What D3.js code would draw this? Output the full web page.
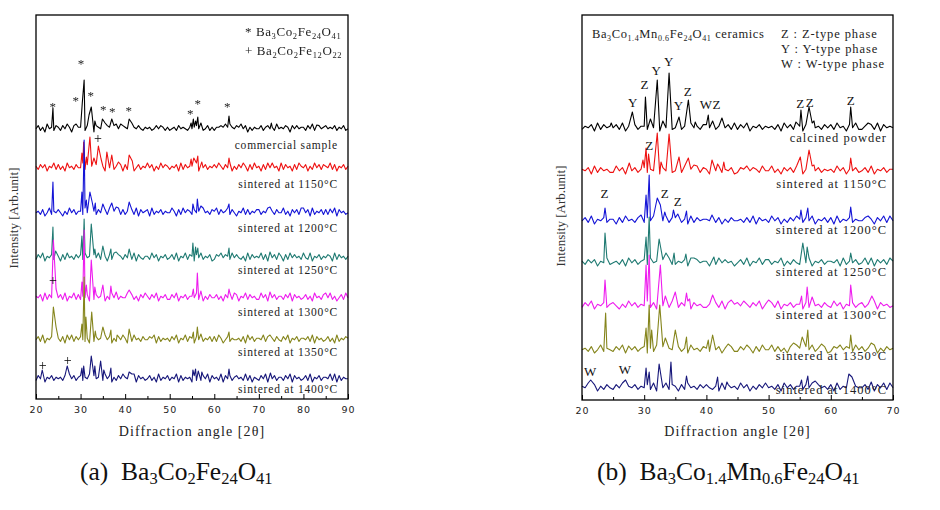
<!DOCTYPE html>
<html><head><meta charset="utf-8">
<script src="https://cdn.jsdelivr.net/npm/d3@7"></script>
<style>body{margin:0;background:#fff}svg{display:block}</style>
</head><body>
<svg id="c" width="940" height="510"><defs><filter id="gs" x="0" y="0" width="1" height="1"><feOffset dx="0" dy="0"/></filter></defs></svg>
<script>
// ---------- DATA ----------
const traceColors = ["#000000","#ee1111","#1414d6","#1f7a72","#ee1cee","#85851c","#17177a"];
const leftLabels = ["commercial sample","sintered at 1150°C","sintered at 1200°C","sintered at 1250°C","sintered at 1300°C","sintered at 1350°C","sintered at 1400°C"];
const rightLabels = ["calcined powder","sintered at 1150°C","sintered at 1200°C","sintered at 1250°C","sintered at 1300°C","sintered at 1350°C","sintered at 1400°C"];
// stacking offsets (arb. units) of each pattern
const leftOffsets = [271,232,187,142,102,60,21];
const rightOffsets = [273,230,180,138,95,51,13];
const leftLabelLevels = [250,211,167,125,83,43,6];
const rightLabelLevels = [258,212,166,124,81,40,6];
const xTicksLeft = [20,30,40,50,60,70,80,90];
const xTicksRight = [20,30,40,50,60,70];
const minorLeft = [25,35,45,55,65,75,85];
const minorRight = [25,35,45,55,65];
// background noise read at 0.5° steps (digit - 3.5, in 1.6 units)
const leftNoise = [
"3524163425 4253641534 4625341543 2354654365 4352435324 3423535424 2342534324 3453423524 2445464643 5463514243 3524534263 4354153534 4253623534 5343524352 3",
"4253514362 5241634253 3625143526 4153624351 5264135243 6351426354 2435162534 4261535243 5364253614 2536415263 4152635341 6253415264 3514263525 4362514352 4",
"3425136243 5314263524 4263514253 3526143625 2435261534 5162435243 3641526354 2534163425 4625346253 1436252435 5243614253 3624153526 4351624352 5243615342 3",
"2536143524 4152634253 5263415362 3415263542 5342615324 4263514352 3526143625 4153624351 2546354263 5324162534 3625143526 4152635342 5326143524 3541625342 4",
"4351625342 3526143625 2435162534 5142635243 3625241536 4253614352 2536143524 4362514253 3524153626 5143625342 2635143524 4253615342 3524163425 5362413526 3",
"3526143524 4251636253 5324162534 2635142536 4152634253 3546152434 2536143625 4153624352 5264135243 3425163524 4362514253 2536143524 4352615342 3524162435 4",
"2536143524 3425163524 5243615342 2635142536 4352615342 3524162435 2436152434 1524253615 3426153524 5342625143 2536143524 4253615342 3526143524 4352615243 3"];
const rightNoise = [
"2435162534 3526143524 4253615342 3524163425 5362413526 2536143524 3425163524 4152634253 5263415362 2435261534 3",
"4351625342 2635143524 5243615342 3526143625 4153624351 2546354263 3624153526 5142635243 4263514352 3526143524 4",
"3526143524 4152634253 2536143625 5324162534 4362514253 3425261534 2635142536 4253614352 5162435243 3524153626 3",
"4253514362 3425163524 5263415362 2435162534 4152635341 3526143625 5243614253 2536143524 4351624352 3624153526 4",
"2536143524 5314263524 3625143526 4253615342 2435261534 5364253614 3526143524 4152634253 2635143524 5243615342 3",
"3425136243 2536143524 5142635243 3524163425 4263514352 2536415263 3625241536 4153624351 2546354263 5243614253 4",
"4362514253 2536143524 3526143625 4152634253 5324162534 2635142536 3425163524 4253615342 5162435243 3524153626 3"];
// peaks [2θ, height above pattern baseline]
const leftPeaks = [
 [[23.8,20],[29.0,4],[30.4,26],[30.8,48],[31.9,13],[32.4,21],[33.2,7],[34.9,9],[35.5,5],[37.0,9],[38.0,4],[40.9,9],[41.5,5],[54.8,5],[55.3,9],[55.8,7],[56.3,11],[57.0,5],[63.3,12],[72.8,5],[83.0,3]],
 [[24.0,4],[30.3,14],[30.7,25],[31.3,10],[32.1,30],[33.0,9],[34.0,21],[34.6,8],[35.9,15],[37.0,12],[38.5,5],[40.9,12],[41.6,6],[54.8,8],[55.4,9],[56.3,11],[57.2,5],[63.3,9],[73.0,4]],
 [[23.8,30],[30.3,20],[30.8,72],[31.3,12],[32.1,20],[32.6,10],[33.3,9],[35.0,8],[37.0,9],[38.0,5],[40.9,10],[55.2,8],[56.2,13],[57.0,6],[63.3,8],[72.5,5],[80.0,4],[86.0,3]],
 [[23.8,30],[24.4,6],[30.3,21],[30.8,38],[32.4,33],[33.2,8],[35.0,11],[36.8,8],[38.0,5],[40.9,8],[55.2,14],[55.8,10],[56.3,9],[63.3,9],[72.5,5],[80.0,4]],
 [[23.9,57],[24.5,8],[30.3,15],[30.8,67],[31.3,12],[32.4,37],[33.2,10],[35.0,12],[36.8,11],[38.0,5],[40.9,7],[55.3,8],[56.2,24],[57.0,6],[63.3,8],[72.5,5],[85.0,4]],
 [[23.9,32],[24.5,12],[30.3,15],[30.8,62],[31.2,22],[32.5,27],[33.3,8],[35.0,12],[36.8,9],[38.2,4],[40.9,10],[55.3,7],[56.2,12],[57.0,5],[63.3,7],[72.5,4]],
 [[21.4,8],[27.0,12],[30.3,10],[30.7,12],[32.4,22],[33.2,12],[34.5,17],[35.2,8],[36.8,10],[40.9,6],[41.5,4],[55.2,8],[55.8,9],[56.4,7],[57.2,6],[63.3,9],[72.6,5],[86.0,4]]];
const rightPeaks = [
 [[24.7,4],[28.1,15],[30.2,30],[31.0,8],[32.1,47],[33.0,6],[34.0,54],[35.6,10],[37.1,27],[38.2,5],[40.3,12],[41.0,6],[42.5,9],[54.4,5],[55.2,17],[56.5,20],[57.3,6],[63.2,20],[66.0,4]],
 [[27.6,7],[29.8,10],[30.3,22],[30.7,16],[32.1,37],[32.7,8],[34.0,36],[35.6,13],[37.1,12],[38.0,5],[40.9,10],[41.8,6],[42.8,8],[55.1,13],[56.5,20],[57.3,5],[63.2,12],[66.5,4]],
 [[23.7,12],[29.5,5],[30.3,25],[30.8,45],[32.1,22],[32.6,15],[33.3,8],[34.7,10],[35.4,6],[36.8,9],[40.9,5],[55.2,10],[56.3,12],[63.2,13],[66.0,4]],
 [[23.7,29],[30.3,25],[30.8,45],[32.4,23],[33.5,9],[34.8,9],[36.7,8],[38.0,4],[41.2,5],[55.5,19],[56.2,15],[63.2,9],[66.5,4]],
 [[23.7,25],[30.3,40],[30.8,50],[32.6,40],[33.4,9],[35.0,13],[36.8,12],[37.3,6],[41.0,10],[44.0,5],[50.0,5],[55.3,9],[56.2,18],[57.0,8],[63.2,20],[66.6,9]],
 [[23.8,36],[27.5,3],[30.3,21],[30.8,44],[31.2,19],[32.5,44],[33.4,11],[35.0,19],[36.8,12],[40.3,9],[41.0,14],[43.5,5],[54.0,6],[55.4,12],[56.3,19],[58.5,5],[63.2,14],[66.5,6]],
 [[21.4,7],[27.0,7],[30.3,19],[30.8,15],[32.4,23],[34.3,25],[36.8,11],[41.8,10],[43.3,5],[55.3,7],[56.3,11],[57.5,6],[62.9,13],[63.4,10],[66.5,5]]];
// peak markers
const leftStars = [[23.75,295],[28.9,301],[30.1,338],[32.3,306],[35.1,292],[37.1,290],[40.8,291],[54.6,288],[56.3,298],[62.9,295]];
const leftPluses = [[33.9,261],[23.8,119],[21.5,34],[27.1,39]];
const rightMarks = [["Y",28.15,298],["Z",30.05,316],["Y",31.93,330],["Y",33.95,339],["Y",35.5,295],["Z",37.0,309],["W",39.9,296],["Z",41.6,296],["Z",55.1,297],["Z",56.6,298],["Z",63.2,300],["Z",30.8,255],["Z",23.6,207],["Z",33.3,207],["Z",35.4,199],["W",21.3,29],["W",26.9,31]];
const leftLegend = [[["* Ba",0],["3",1],["Co",0],["2",1],["Fe",0],["24",1],["O",0],["41",1]],
                    [["+ Ba",0],["2",1],["Co",0],["2",1],["Fe",0],["12",1],["O",0],["22",1]]];
const rightTitle = [["Ba",0],["3",1],["Co",0],["1.4",1],["Mn",0],["0.6",1],["Fe",0],["24",1],["O",0],["41",1],[" ceramics",0]];
const rightLegend = ["Z : Z-type phase","Y : Y-type phase","W : W-type phase"];
const captionA = [["(a)\u00a0\u00a0Ba",0],["3",1],["Co",0],["2",1],["Fe",0],["24",1],["O",0],["41",1]];
const captionB = [["(b)\u00a0\u00a0Ba",0],["3",1],["Co",0],["1.4",1],["Mn",0],["0.6",1],["Fe",0],["24",1],["O",0],["41",1]];

// ---------- DRAW ----------
const svg = d3.select("#c");
const SERIF = "'Liberation Serif','Times New Roman',serif";
const NOISE_UNIT = 1.6;

function chem(sel, parts, subFs, shift){
  let prevSub = false;
  parts.forEach(([t,s]) => {
    const ts = sel.append("tspan").text(t);
    if (s) { ts.attr("font-size", subFs); if(!prevSub) ts.attr("dy", shift); }
    else if (prevSub) ts.attr("dy", -shift);
    prevSub = !!s;
  });
}

function buildPoints(noiseStr, peaks, x0, x1){
  const vals = noiseStr.replace(/\s/g,"").split("").map(c => (+c - 3.5) * NOISE_UNIT);
  const pts = [];
  vals.forEach((v,i) => {
    const d = x0 + i*0.5;
    if (d > x1) return;
    if (peaks.some(p => Math.abs(p[0]-d) < 0.15)) return;
    pts.push([d, v]);
  });
  peaks.forEach(p => pts.push([p[0], p[1]]));
  pts.sort((a,b) => a[0]-b[0]);
  return pts;
}

function panel(cfg){
  const x = d3.scaleLinear().domain(cfg.xd).range(cfg.xr);
  const y = d3.scaleLinear().domain(cfg.yd).range(cfg.yr);
  const g = svg.append("g");
  cfg.noise.forEach((ns,i) => {
    const pts = buildPoints(ns, cfg.peaks[i], cfg.xd[0], cfg.xd[1]);
    const line = d3.line().x(d => x(d[0])).y(d => y(cfg.offsets[i] + d[1]));
    g.append("path").attr("d", line(pts)).attr("fill","none")
      .attr("stroke", traceColors[i]).attr("stroke-width",1.1).attr("stroke-linejoin","round");
  });
  cfg.labels.forEach((t,i) => {
    g.append("text").attr("x", cfg.labelX).attr("y", y(cfg.labelLevels[i]))
      .attr("text-anchor","end").attr("font-family",SERIF).attr("font-size",cfg.labelFs)
      .attr("letter-spacing",cfg.labelLs).attr("fill","#222").text(t);
  });
  g.append("rect").attr("x",cfg.xr[0]).attr("y",cfg.yr[1]).attr("width",cfg.xr[1]-cfg.xr[0])
    .attr("height",cfg.yr[0]-cfg.yr[1]).attr("fill","none").attr("stroke","#000").attr("stroke-width",1.3);
  const ax = g.append("g").attr("transform",`translate(0,${cfg.yr[0]})`)
    .call(d3.axisBottom(x).tickValues(cfg.ticks).tickSize(-5).tickSizeOuter(0).tickPadding(7).tickFormat(d3.format("d")));
  ax.select(".domain").remove();
  ax.selectAll("text").attr("font-family","'DejaVu Sans',sans-serif").attr("font-size",9.5).attr("letter-spacing",1).attr("fill","#222");
  const axm = g.append("g").attr("transform",`translate(0,${cfg.yr[0]})`)
    .call(d3.axisBottom(x).tickValues(cfg.minor).tickSize(-3).tickSizeOuter(0).tickFormat(""));
  axm.select(".domain").remove();
  g.append("text").attr("x",(cfg.xr[0]+cfg.xr[1])/2).attr("y",436).attr("text-anchor","middle")
    .attr("font-family",SERIF).attr("font-size",14).attr("letter-spacing",1.1).attr("fill","#222").text("Diffraction angle [2θ]");
  g.append("text").attr("transform",`translate(${cfg.ytX},${cfg.ytY}) rotate(-90)`).attr("text-anchor","middle")
    .attr("font-family",SERIF).attr("font-size",13).attr("fill","#333").text("Intensity [Arb.unit]");
  return {x,y,g};
}

const L = panel({xd:[20,90], xr:[36,348], yd:[0,384], yr:[399,15], noise:leftNoise, peaks:leftPeaks,
  offsets:leftOffsets, labels:leftLabels, labelLevels:leftLabelLevels, labelX:338, labelFs:11.5, labelLs:0.8,
  ticks:xTicksLeft, minor:minorLeft, ytX:18, ytY:218});
const R = panel({xd:[20,70], xr:[582,893], yd:[0,385], yr:[400,15], noise:rightNoise, peaks:rightPeaks,
  offsets:rightOffsets, labels:rightLabels, labelX:887, labelLevels:rightLabelLevels, labelFs:12.5, labelLs:1,
  ticks:xTicksRight, minor:minorRight, ytX:565, ytY:216});

const mk = L.g.append("g").attr("filter","url(#gs)");
mk.append("rect").attr("x",36).attr("y",15).attr("width",312).attr("height",384).attr("fill","none");
leftStars.forEach(([d,v]) => {
  mk.append("text").attr("x",L.x(d)).attr("y",L.y(v)+7).attr("text-anchor","middle")
    .attr("font-family",SERIF).attr("font-size",13).attr("fill","#222").text("*");
});
leftPluses.forEach(([d,v]) => {
  mk.append("text").attr("x",L.x(d)).attr("y",L.y(v)).attr("dominant-baseline","central").attr("text-anchor","middle")
    .attr("font-family",SERIF).attr("font-size",14).attr("fill","#000").text("+");
});
leftLegend.forEach((parts,i) => {
  const t = mk.append("text").attr("x",245).attr("y",36 + i*19).attr("font-family",SERIF)
    .attr("font-size",13).attr("letter-spacing",0.6).attr("fill","#222");
  chem(t, parts, 8.5, 3);
});
rightMarks.forEach(([s,d,v]) => {
  R.g.append("text").attr("x",R.x(d)).attr("y",R.y(v)).attr("dominant-baseline","central").attr("text-anchor","middle")
    .attr("font-family",SERIF).attr("font-size",13).attr("fill","#111").text(s);
});
{
  const t = R.g.append("text").attr("x",592).attr("y",38).attr("font-family",SERIF)
    .attr("font-size",12.5).attr("letter-spacing",0.6).attr("fill","#222");
  chem(t, rightTitle, 8, 3);
  rightLegend.forEach((s,i) => {
    R.g.append("text").attr("x",781).attr("y",38 + i*15).attr("font-family",SERIF)
      .attr("font-size",12.5).attr("letter-spacing",0.9).attr("fill","#222").text(s);
  });
}
[[captionA,80],[captionB,597]].forEach(([parts,x]) => {
  const t = svg.append("text").attr("x",x).attr("y",480).attr("font-family",SERIF)
    .attr("font-size",25.5).attr("fill","#111");
  chem(t, parts, 16.5, 4);
});
</script>
</body></html>
